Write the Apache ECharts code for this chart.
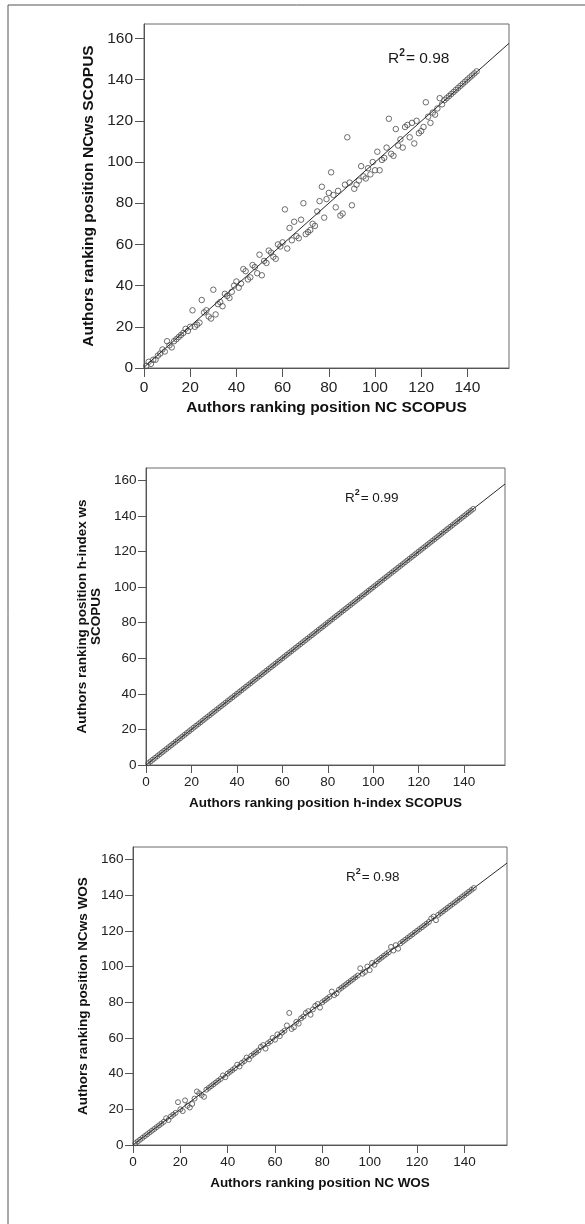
<!DOCTYPE html>
<html>
<head>
<meta charset="utf-8">
<script src="https://cdn.jsdelivr.net/npm/echarts@6/dist/echarts.min.js"></script>
<style>
  html, body { margin: 0; padding: 0; background: #fff; }
  #chart { width: 585px; height: 1224px; }
</style>
</head>
<body>
<div id="chart"></div>
<script>
// Ranking position of each author (x values shared by all three panels)
const authorRank = [
  1,2,3,4,5,6,7,8,9,10,11,12,13,14,15,16,17,18,19,20,
  21,22,23,24,25,26,27,28,29,30,31,32,33,34,35,36,37,38,39,40,
  41,42,43,44,45,46,47,48,49,50,51,52,53,54,55,56,57,58,59,60,
  61,62,63,64,65,66,67,68,69,70,71,72,73,74,75,76,77,78,79,80,
  81,82,83,84,85,86,87,88,89,90,91,92,93,94,95,96,97,98,99,100,
  101,102,103,104,105,106,107,108,109,110,111,112,113,114,115,116,117,118,119,120,
  121,122,123,124,125,126,127,128,129,130,131,132,133,134,135,136,137,138,139,140,
  141,142,143,144
];

// Ranking position NCws SCOPUS
const ncwsScopus = [
  1,3,2,4,4,6,7,9,8,13,11,10,13,14,15,16,17,19,18,20,
  28,20,21,22,33,27,28,25,24,38,26,31,32,30,36,35,34,37,40,42,
  39,41,48,47,43,44,50,49,46,55,45,52,51,57,56,54,53,60,59,61,
  77,58,68,62,71,64,63,72,80,65,66,67,70,69,76,81,88,73,82,85,
  95,84,78,86,74,75,89,112,90,79,87,89,91,98,93,92,97,94,100,96,
  105,96,101,102,107,121,104,103,116,108,111,107,117,118,112,119,109,120,114,115,
  117,129,122,119,124,123,126,131,128,130,131,132,133,134,135,136,137,138,139,140,
  141,142,143,144
];

// Ranking position h-index ws SCOPUS
const hIndexWsScopus = [
  1,2,3,4,5,6,7,8,9,10,11,12,13,14,15,16,17,18,19,20,
  21,22,23,24,25,26,27,28,29,30,31,32,33,34,35,36,37,38,39,40,
  41,42,43,44,45,46,47,48,49,50,51,52,53,54,55,56,57,58,59,60,
  61,62,63,64,65,66,67,68,69,70,71,72,73,74,75,76,77,78,79,80,
  81,82,83,84,85,86,87,88,89,90,91,92,93,94,95,96,97,98,99,100,
  101,102,103,104,105,106,107,108,109,110,111,112,113,114,115,116,117,118,119,120,
  121,122,123,124,125,126,127,128,129,130,131,132,133,134,135,136,137,138,139,140,
  141,142,143,144
];

// Ranking position NCws WOS
const ncwsWos = [
  1,2,3,4,5,6,7,8,9,10,11,12,13,15,14,16,17,18,24,20,
  19,25,22,21,23,26,30,29,28,27,31,32,33,34,35,36,37,39,38,40,
  41,42,43,45,44,46,47,49,48,50,51,52,53,55,56,54,57,58,60,59,
  62,61,63,64,67,74,65,66,69,68,71,72,74,75,73,76,78,79,77,80,
  81,82,83,86,84,85,87,88,89,90,91,92,93,94,95,99,96,97,100,98,
  102,101,103,104,105,106,107,108,111,109,112,110,113,114,115,116,117,118,119,120,
  121,122,123,124,125,127,128,126,129,130,131,132,133,134,135,136,137,138,139,140,
  141,142,143,144
];

const xTickValues = [0, 20, 40, 60, 80, 100, 120, 140];
const yTickValues = [0, 20, 40, 60, 80, 100, 120, 140, 160];
const rSquared = ['0.98', '0.99', '0.98'];
const xTitles = [
  'Authors ranking position NC SCOPUS',
  'Authors ranking position h-index SCOPUS',
  'Authors ranking position NC WOS'
];
const yTitles = [
  'Authors ranking position NCws SCOPUS',
  'Authors ranking position h-index ws\nSCOPUS',
  'Authors ranking position NCws WOS'
];
const yValues = [ncwsScopus, hIndexWsScopus, ncwsWos];

const X_MAX = 158;
const Y_MAX = 167;
const FONT = '"Liberation Sans", Arial, Helvetica, sans-serif';

// Panel geometry and text sizes
const panels = [
  { left: 144, top: 24,  width: 365, height: 344, font: 15.5, tick: 9, xMargin: 12, yMargin: 11, xGap: 32, yGap: 45, sym: 5.5, rx: 388, ry: 59 },
  { left: 146, top: 468, width: 359, height: 297, font: 13.5, tick: 8, xMargin: 10, yMargin: 9.5, xGap: 31, yGap: 39, sym: 5, rx: 345, ry: 498 },
  { left: 133, top: 847, width: 374, height: 298, font: 13.5, tick: 8, xMargin: 10, yMargin: 9.5, xGap: 31, yGap: 39, sym: 5, rx: 346, ry: 877 }
];

// Ordinary least squares fit y = a + b x
function linearFit(xs, ys) {
  const n = xs.length;
  let sx = 0, sy = 0, sxx = 0, sxy = 0;
  for (let i = 0; i < n; i++) {
    sx += xs[i]; sy += ys[i];
    sxx += xs[i] * xs[i]; sxy += xs[i] * ys[i];
  }
  const b = (n * sxy - sx * sy) / (n * sxx - sx * sx);
  const a = (sy - b * sx) / n;
  return { a, b };
}

const grid = [], xAxis = [], yAxis = [], series = [], graphic = [];

panels.forEach((p, i) => {
  grid.push({
    left: p.left, top: p.top, width: p.width, height: p.height,
    show: true, borderColor: '#6a6a6a', borderWidth: 1, backgroundColor: '#fff'
  });
  xAxis.push({
    type: 'value', gridIndex: i, min: 0, max: X_MAX, interval: 20,
    axisLine: { show: true, onZero: false, lineStyle: { color: '#555', width: 1 } },
    axisTick: { show: true, length: p.tick, customValues: xTickValues, lineStyle: { color: '#555' } },
    axisLabel: { customValues: xTickValues, fontSize: p.font, color: '#222', margin: p.xMargin, fontFamily: FONT },
    splitLine: { show: false },
    name: xTitles[i], nameLocation: 'middle', nameGap: p.xGap,
    nameTextStyle: { fontSize: p.font, fontWeight: 'bold', color: '#111', fontFamily: FONT }
  });
  yAxis.push({
    type: 'value', gridIndex: i, min: 0, max: Y_MAX, interval: 20,
    axisLine: { show: true, onZero: false, lineStyle: { color: '#555', width: 1 } },
    axisTick: { show: true, length: p.tick, customValues: yTickValues, lineStyle: { color: '#555' } },
    axisLabel: { customValues: yTickValues, fontSize: p.font, color: '#222', margin: p.yMargin, fontFamily: FONT },
    splitLine: { show: false },
    name: yTitles[i], nameLocation: 'middle', nameGap: p.yGap, nameRotate: 90,
    nameTextStyle: { fontSize: p.font, fontWeight: 'bold', color: '#111', fontFamily: FONT, lineHeight: p.font }
  });

  const ys = yValues[i];
  const fit = linearFit(authorRank, ys);
  series.push({
    type: 'line', xAxisIndex: i, yAxisIndex: i, silent: true, symbol: 'none',
    data: [[0, fit.a], [X_MAX, fit.a + fit.b * X_MAX]],
    lineStyle: { color: '#2a2a2a', width: 1 }, z: 3, clip: true
  });
  series.push({
    type: 'scatter', xAxisIndex: i, yAxisIndex: i, silent: true,
    symbol: 'circle', symbolSize: p.sym,
    data: authorRank.map((x, k) => [x, ys[k]]),
    itemStyle: { color: 'rgba(0,0,0,0)', borderColor: '#4a4a4a', borderWidth: 1 },
    z: 2
  });

  graphic.push({
    type: 'text', x: p.rx, y: p.ry,
    style: {
      text: '{r|R}{s|2}{e|= ' + rSquared[i] + '}',
      verticalAlign: 'middle', align: 'left',
      rich: {
        r: { fontSize: p.font, fontFamily: FONT, fill: '#1a1a1a', lineHeight: p.font + 7 },
        s: { fontSize: p.font * 0.66, fontFamily: FONT, fill: '#1a1a1a', verticalAlign: 'top', fontWeight: 'bold' },
        e: { fontSize: p.font, fontFamily: FONT, fill: '#1a1a1a', lineHeight: p.font + 7, padding: [0, 0, 0, 1] }
      }
    }
  });
});

// Outer frame of the figure
graphic.push({ type: 'line', shape: { x1: 8, y1: 5, x2: 585, y2: 5 }, style: { stroke: '#555', lineWidth: 1 } });
graphic.push({ type: 'line', shape: { x1: 8, y1: 5, x2: 8, y2: 1224 }, style: { stroke: '#555', lineWidth: 1 } });

const chart = echarts.init(document.getElementById('chart'), null, { renderer: 'canvas' });
chart.setOption({
  animation: false,
  backgroundColor: '#fff',
  grid, xAxis, yAxis, series, graphic
});
</script>
</body>
</html>
